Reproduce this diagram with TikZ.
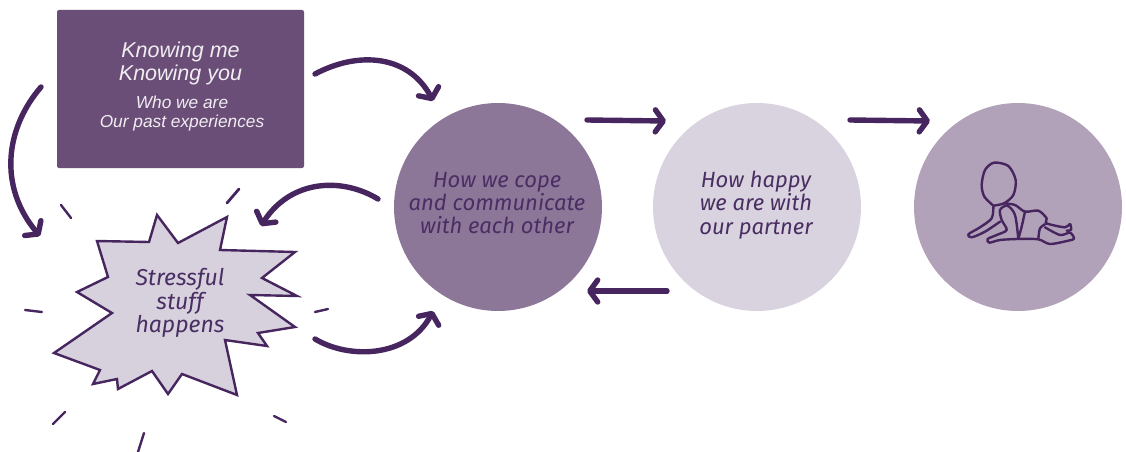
\documentclass[tikz,border=0pt]{standalone}
\usepackage{fontspec}
\setmainfont{Fira Sans}
\newfontfamily\boxfont{Liberation Sans}
\usetikzlibrary{arrows.meta,bending}
\definecolor{ink}{HTML}{47255F}
\definecolor{txt}{HTML}{4A2E63}
\definecolor{boxc}{HTML}{6B4E78}
\definecolor{copec}{HTML}{8D7799}
\definecolor{happyc}{HTML}{D8D3DE}
\definecolor{babyc}{HTML}{B1A1B9}
\definecolor{starc}{HTML}{D6D1DD}
\tikzset{
  disc/.style={circle,minimum size=208pt,inner sep=0pt},
  flow/.style={draw=ink,line width=5.4pt,line cap=round,-{Straight Barb[length=8pt,width=22pt,line width=5.4pt,round,flex]}},
  burst/.style={draw=ink,line width=2.4pt,line cap=round},
  babyline/.style={draw=ink,line width=2.4pt,line cap=round,line join=round},
  lettering/.style={align=center,text=txt,font=\fontsize{22}{23.2}\selectfont\itshape},
  bigletter/.style={align=center,text=txt,font=\fontsize{23}{23.2}\selectfont\itshape},
  boxhead/.style={align=center,text=white!90!boxc,font=\boxfont\itshape\fontsize{21.5}{23}\selectfont},
  boxsub/.style={align=center,text=white!90!boxc,font=\boxfont\itshape\fontsize{17.3}{19}\selectfont}
}
\begin{document}
\begin{tikzpicture}[x=1pt,y=-1pt]
\useasboundingbox (0,0) rectangle (1126,452);
% box
\node[fill=boxc,rounded corners=2pt,minimum width=247pt,minimum height=158pt,inner sep=0pt] (box) at (180.5,89) {};
\node[boxhead] (boxtitle) at (180.5,63.5) {Knowing me\\ Knowing you};
\node[boxsub] (boxtext) at (182,113.5) {Who we are\\ Our past experiences};
% discs
\node[disc,fill=copec] (cope) at (498,207) {};
\node[lettering] (copetext) at (497,203) {How we cope\\ and communicate\\ with each other};
\node[disc,fill=happyc] (happy) at (757,207) {};
\node[lettering] (happytext) at (756,205) {How happy\\ we are with\\ our partner};
\node[disc,fill=babyc] (baby) at (1018,207) {};
% star
\draw[burst,fill=starc,line join=miter] (157,215)--(178,243)--(227,217)--(220,250)--(295,252)--(262,278)--(297,296)--(250,295)--(295,327)--(258,333)--(267,346)--(225,340)--(237,395)--(182,374)--(168,394)--(152,371)--(118,389)--(117,379)--(93,384)--(100,370)--(54,353)--(112,313)--(77,292)--(108,277)--(97,241)--(149,242)--cycle;
\node[bigletter] (stress) at (180,303) {Stressful\\ stuff\\ happens};
% ticks
\draw[burst] (61,205)--(71,218);
\draw[burst,line width=2.8pt] (227,203)--(239,189);
\draw[burst] (25,310)--(42,312);
\draw[burst] (315,312)--(328,309);
\draw[burst] (53,424)--(65,412);
\draw[burst] (274,416)--(286,422);
\draw[burst] (138,452)--(144,433);
% connectors
\coordinate (a1s) at (315,74);  \coordinate (a1e) at (433,101);
\coordinate (a2s) at (41,87);   \coordinate (a2e) at (40,236);
\coordinate (a3s) at (378,199); \coordinate (a3e) at (261,226);
\coordinate (a4s) at (315,339); \coordinate (a4e) at (433,311);
\coordinate (a5s) at (587,120); \coordinate (a5e) at (666,121);
\coordinate (a6s) at (850,120); \coordinate (a6e) at (930,121);
\coordinate (a7s) at (667,291); \coordinate (a7e) at (587,291);
\draw[flow] (a1s) .. controls (360,50) and (412,55) .. (a1e);
\draw[flow] (a2s) .. controls (4,130) and (-2,190) .. (a2e);
\draw[flow] (a3s) .. controls (340,176) and (287,180) .. (a3e);
\draw[flow] (a4s) .. controls (350,360) and (412,358) .. (a4e);
\draw[flow] (a5s) -- (a5e);
\draw[flow] (a6s) -- (a6e);
\draw[flow] (a7s) -- (a7e);
% baby, traced
\begin{scope}[shift={(950,140)},x=0.3333pt,y=-0.3333pt]
\draw[babyline] plot[smooth] coordinates {(130,197)(103,170)(95,135)(105,90)(132,68)(175,78)(197,120)(190,165)(162,190)(130,197)};
\draw[babyline] plot[smooth] coordinates {(162,190)(195,195)(225,215)(265,212)(290,235)(290,250)(345,262)(360,252)(363,270)(350,272)};
\draw[babyline] plot[smooth] coordinates {(285,262)(330,285)(360,278)(372,296)(355,302)(300,312)(265,298)(205,297)(150,300)(118,308)(113,297)(140,285)(170,270)(155,240)(150,210)(172,197)(195,225)(205,297)};
\draw[babyline] plot[smooth] coordinates {(130,200)(125,235)(90,262)(55,283)(65,292)(105,275)(150,245)};
\draw[babyline] plot[smooth] coordinates {(225,215)(215,260)(205,297)};
\draw[babyline] plot[smooth] coordinates {(290,250)(270,265)(265,298)};
\end{scope}
\end{tikzpicture}
\end{document}
